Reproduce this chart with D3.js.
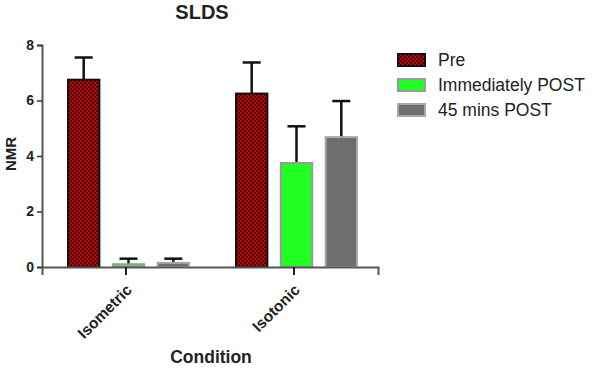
<!DOCTYPE html>
<html lang="en">
<head>
<meta charset="utf-8">
<title>SLDS</title>
<script src="https://d3js.org/d3.v7.min.js"></script>
<style>
  body { margin: 0; background: #fff; }
  text { font-family: "Liberation Sans", Arial, sans-serif; }
</style>
</head>
<body>
<script>
// data
const conditions = ["Isometric", "Isotonic"];
const series = ["Pre", "Immediately POST", "45 mins POST"];
const means = [
  [6.75, 0.1, 0.15],
  [6.25, 3.75, 4.68]
];
const errors = [
  [0.8, 0.2, 0.15],
  [1.12, 1.32, 1.3]
];
const yTicks = [0, 2, 4, 6, 8];

const w = 592, h = 370;
const svg = d3.select("body").append("svg")
  .attr("width", w).attr("height", h);

// checkered fill for "Pre"
const defs = svg.append("defs");
const pat = defs.append("pattern")
  .attr("id", "check")
  .attr("width", 4).attr("height", 4)
  .attr("patternUnits", "userSpaceOnUse");
pat.append("rect").attr("width", 4).attr("height", 4).attr("fill", "#b00a0a");
pat.append("rect").attr("width", 2).attr("height", 2).attr("fill", "#550000");
pat.append("rect").attr("x", 2).attr("y", 2).attr("width", 2).attr("height", 2).attr("fill", "#550000");

const fills = ["url(#check)", "#22ff22", "#6e6e6e"];
const strokes = ["#111", "#9a9a9a", "#a8a8a8"];

const x0 = d3.scaleBand().domain(conditions).range([42, 378]);
const x1 = d3.scaleBand().domain(series).range([26, 147]).paddingInner(0.3);
const y = d3.scaleLinear().domain([0, 8]).range([267, 45]);

// bars
const groups = svg.selectAll("g.grp")
  .data(conditions)
  .enter().append("g")
  .attr("transform", d => "translate(" + x0(d) + ",0)");

groups.each(function(c, ci) {
  const g = d3.select(this);
  series.forEach((s, si) => {
    const v = means[ci][si], e = errors[ci][si];
    const cx = x1(s) + x1.bandwidth() / 2;
    // error bar
    g.append("line")
      .attr("x1", cx).attr("x2", cx)
      .attr("y1", y(v)).attr("y2", y(v + e))
      .attr("stroke", "#111").attr("stroke-width", 2.5);
    g.append("line")
      .attr("x1", cx - 9).attr("x2", cx + 9)
      .attr("y1", y(v + e)).attr("y2", y(v + e))
      .attr("stroke", "#111").attr("stroke-width", 2.5);
    g.append("rect")
      .attr("x", x1(s))
      .attr("y", y(v))
      .attr("width", x1.bandwidth())
      .attr("height", y(0) - y(v))
      .attr("fill", fills[si])
      .attr("stroke", strokes[si])
      .attr("stroke-width", 2);
  });
});

// axes
const yAxis = svg.append("g")
  .attr("transform", "translate(42,0)")
  .call(d3.axisLeft(y).tickValues(yTicks).tickSize(5).tickPadding(3));
yAxis.select(".domain").attr("stroke", "#555").attr("stroke-width", 2);
yAxis.selectAll(".tick line").attr("stroke", "#333").attr("stroke-width", 1.5);
yAxis.selectAll(".tick text")
  .attr("font-size", "14px").attr("font-weight", "bold").attr("fill", "#222")
  .style("font-family", "Liberation Sans, Arial, sans-serif");

const xAxis = svg.append("g")
  .attr("transform", "translate(0,267)")
  .call(d3.axisBottom(x0).tickSizeOuter(0).tickSize(8).tickPadding(6));
xAxis.select(".domain").attr("stroke", "#555").attr("stroke-width", 2);
xAxis.selectAll(".tick line").attr("stroke", "#222").attr("stroke-width", 2);
xAxis.selectAll(".tick text")
  .attr("font-size", "15.5px").attr("font-weight", "bold").attr("fill", "#222")
  .style("font-family", "Liberation Sans, Arial, sans-serif")
  .attr("text-anchor", "end")
  .attr("x", 0).attr("y", 0)
  .attr("dy", "0.35em")
  .attr("transform", "translate(3,20) rotate(-45)");

// titles
svg.append("text")
  .attr("x", 202).attr("y", 19)
  .attr("text-anchor", "middle")
  .attr("font-size", "20px").attr("font-weight", "bold").attr("fill", "#222")
  .text("SLDS");

svg.append("text")
  .attr("transform", "translate(16,154) rotate(-90)")
  .attr("text-anchor", "middle")
  .attr("font-size", "15px").attr("font-weight", "bold").attr("fill", "#222")
  .text("NMR");

svg.append("text")
  .attr("x", 211).attr("y", 363)
  .attr("text-anchor", "middle")
  .attr("font-size", "17.5px").attr("font-weight", "bold").attr("fill", "#222")
  .text("Condition");

// legend
const legend = svg.selectAll("g.leg")
  .data(series)
  .enter().append("g")
  .attr("transform", (d, i) => "translate(398," + (54 + i * 25) + ")");
legend.append("rect")
  .attr("width", 27).attr("height", 12)
  .attr("fill", (d, i) => fills[i])
  .attr("stroke", (d, i) => strokes[i])
  .attr("stroke-width", 2);
legend.append("text")
  .attr("x", 40).attr("y", 6)
  .attr("dy", "0.35em")
  .attr("font-size", "17.5px").attr("fill", "#222")
  .text(d => d);
</script>
</body>
</html>
